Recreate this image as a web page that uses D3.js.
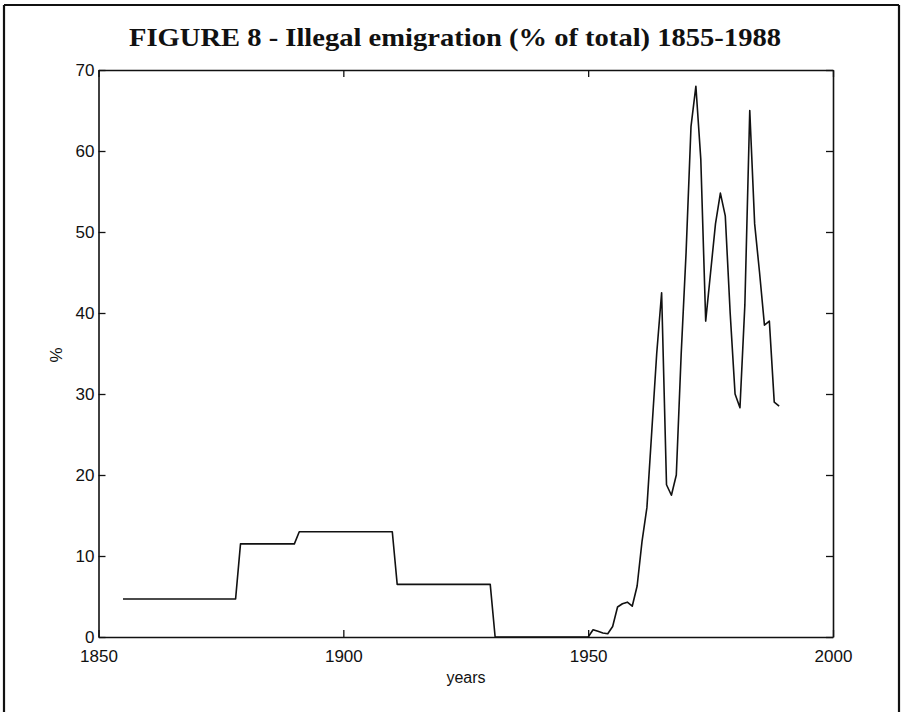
<!DOCTYPE html>
<html><head><meta charset="utf-8">
<script src="https://cdn.jsdelivr.net/npm/d3@7"></script>
<style>body{margin:0;background:#fff}svg{display:block}</style>
</head><body>
<script>
const years = [1855,1856,1857,1858,1859,1860,1861,1862,1863,1864,1865,1866,1867,1868,1869,1870,1871,1872,1873,1874,1875,1876,1877,1878,
1879,1880,1881,1882,1883,1884,1885,1886,1887,1888,1889,1890,
1891,1892,1893,1894,1895,1896,1897,1898,1899,1900,1901,1902,1903,1904,1905,1906,1907,1908,1909,1910,
1911,1912,1913,1914,1915,1916,1917,1918,1919,1920,1921,1922,1923,1924,1925,1926,1927,1928,1929,1930,
1931,1932,1933,1934,1935,1936,1937,1938,1939,1940,1941,1942,1943,1944,1945,1946,1947,1948,1949,1950,
1951,1952,1953,1954,1955,1956,1957,1958,1959,1960,1961,1962,1963,1964,1965,1966,1967,1968,1969,1970,
1971,1972,1973,1974,1975,1976,1977,1978,1979,1980,1981,1982,1983,1984,1985,1986,1987,1988,1989];
const illegalPct = [4.7,4.7,4.7,4.7,4.7,4.7,4.7,4.7,4.7,4.7,4.7,4.7,4.7,4.7,4.7,4.7,4.7,4.7,4.7,4.7,4.7,4.7,4.7,4.7,
11.5,11.5,11.5,11.5,11.5,11.5,11.5,11.5,11.5,11.5,11.5,11.5,
13.0,13.0,13.0,13.0,13.0,13.0,13.0,13.0,13.0,13.0,13.0,13.0,13.0,13.0,13.0,13.0,13.0,13.0,13.0,13.0,
6.5,6.5,6.5,6.5,6.5,6.5,6.5,6.5,6.5,6.5,6.5,6.5,6.5,6.5,6.5,6.5,6.5,6.5,6.5,6.5,
0,0,0,0,0,0,0,0,0,0,0,0,0,0,0,0,0,0,0,0,
0.9,0.7,0.5,0.4,1.3,3.7,4.1,4.3,3.8,6.3,11.8,16,25.5,35,42.5,18.8,17.5,20,35,47.5,
63,68,59,39,45,51,54.8,52,40,30,28.3,41,65,51,45,38.5,39,29,28.5];
const xTicks = [1850,1900,1950,2000];
const yTicks = [0,10,20,30,40,50,60,70];
const titleText = "FIGURE 8 - Illegal emigration (% of total) 1855-1988";
const xLabel = "years", yLabel = "%";

const W = 901, H = 712;
const L = 98.5, R = 833, T = 70, B = 637;
const svg = d3.select("body").append("svg").attr("width", W).attr("height", H);

// page frame
const frame = svg.append("g").attr("stroke", "#111").attr("stroke-width", 2.2).attr("fill", "none");
frame.append("line").attr("x1", 4).attr("y1", 5).attr("x2", 899).attr("y2", 5);
frame.append("line").attr("x1", 4).attr("y1", 5).attr("x2", 4).attr("y2", H);
frame.append("line").attr("x1", 899).attr("y1", 5).attr("x2", 899).attr("y2", H);

svg.append("text").attr("x", 455).attr("y", 46).attr("text-anchor", "middle")
  .attr("font-family", "'Liberation Serif','DejaVu Serif',serif").attr("font-weight", "bold")
  .attr("font-size", 25).attr("textLength", 652).attr("lengthAdjust", "spacingAndGlyphs")
  .attr("fill", "#111").text(titleText);

const x = d3.scaleLinear().domain([1850, 2000]).range([L, R]);
const y = d3.scaleLinear().domain([0, 70]).range([B, T]);

const font = "'Liberation Sans', Arial, sans-serif";
const tickLen = 7;

const axB = svg.append("g").attr("transform", `translate(0,${B})`)
  .call(d3.axisBottom(x).tickValues(xTicks).tickFormat(d3.format("d")).tickSizeInner(-tickLen).tickSizeOuter(0).tickPadding(11));
const axT = svg.append("g").attr("transform", `translate(0,${T})`)
  .call(d3.axisTop(x).tickValues(xTicks).tickFormat("").tickSizeInner(-tickLen).tickSizeOuter(0));
const axL = svg.append("g").attr("transform", `translate(${L},0)`)
  .call(d3.axisLeft(y).tickValues(yTicks).tickFormat(d3.format("d")).tickSizeInner(-tickLen).tickSizeOuter(0).tickPadding(4));
const axR = svg.append("g").attr("transform", `translate(${R},0)`)
  .call(d3.axisRight(y).tickValues(yTicks).tickFormat("").tickSizeInner(-tickLen).tickSizeOuter(0));
[axB, axT, axL, axR].forEach(g => {
  g.selectAll("path.domain").attr("stroke", "#111").attr("stroke-width", 1.6);
  g.selectAll(".tick line").attr("stroke", "#111").attr("stroke-width", 1.3);
  g.selectAll("text").attr("font-family", font).attr("font-size", 17).attr("fill", "#111");
});
axB.selectAll(".tick text").attr("dy", "0.8em");
axL.selectAll(".tick text").attr("dy", "0.32em");

svg.append("text").attr("x", 466).attr("y", 683).attr("text-anchor", "middle")
  .attr("font-family", font).attr("font-size", 16).attr("fill", "#111").text(xLabel);
svg.append("text").attr("transform", "translate(62,355) rotate(-90)").attr("text-anchor", "middle")
  .attr("font-family", font).attr("font-size", 17).attr("fill", "#111").text(yLabel);

const data = years.map((yr, i) => ({yr, v: illegalPct[i]}));
svg.append("path").datum(data)
  .attr("fill", "none").attr("stroke", "#111").attr("stroke-width", 1.6).attr("stroke-linejoin", "round")
  .attr("d", d3.line().x(d => x(d.yr)).y(d => y(d.v)));
</script>
</body></html>
